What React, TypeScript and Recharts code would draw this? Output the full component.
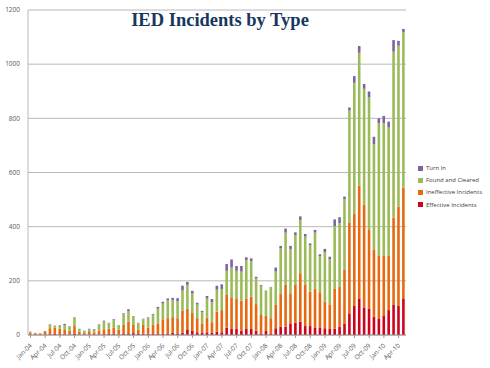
import { BarChart, Bar, XAxis, YAxis, CartesianGrid } from "recharts";

// IED incidents by type, monthly Jan-04 .. May-10
const months = [
  "Jan-04", "Feb-04", "Mar-04", "Apr-04", "May-04", "Jun-04", "Jul-04", "Aug-04", "Sep-04", "Oct-04", "Nov-04", "Dec-04",
  "Jan-05", "Feb-05", "Mar-05", "Apr-05", "May-05", "Jun-05", "Jul-05", "Aug-05", "Sep-05", "Oct-05", "Nov-05", "Dec-05",
  "Jan-06", "Feb-06", "Mar-06", "Apr-06", "May-06", "Jun-06", "Jul-06", "Aug-06", "Sep-06", "Oct-06", "Nov-06", "Dec-06",
  "Jan-07", "Feb-07", "Mar-07", "Apr-07", "May-07", "Jun-07", "Jul-07", "Aug-07", "Sep-07", "Oct-07", "Nov-07", "Dec-07",
  "Jan-08", "Feb-08", "Mar-08", "Apr-08", "May-08", "Jun-08", "Jul-08", "Aug-08", "Sep-08", "Oct-08", "Nov-08", "Dec-08",
  "Jan-09", "Feb-09", "Mar-09", "Apr-09", "May-09", "Jun-09", "Jul-09", "Aug-09", "Sep-09", "Oct-09", "Nov-09", "Dec-09",
  "Jan-10", "Feb-10", "Mar-10", "Apr-10", "May-10",
];

const effective = [
  2, 1, 1, 2, 3, 4, 3, 3, 2, 4, 2, 2,
  2, 2, 2, 3, 4, 4, 2, 6, 6, 7, 4, 5,
  5, 4, 3, 5, 6, 8, 6, 9, 21, 15, 10, 8,
  10, 8, 12, 10, 27, 22, 22, 16, 22, 22, 16, 6,
  15, 6, 25, 31, 31, 43, 45, 49, 33, 33, 28, 28,
  25, 22, 23, 31, 41, 80, 107, 133, 102, 98, 68, 59,
  70, 92, 113, 107, 133,
];

const ineffective = [
  5, 6, 5, 12, 22, 24, 20, 18, 13, 29, 10, 6,
  12, 8, 14, 18, 19, 24, 18, 31, 43, 30, 16, 32,
  22, 35, 40, 53, 56, 58, 56, 80, 76, 66, 52, 35,
  54, 39, 74, 82, 121, 117, 111, 111, 113, 119, 98, 68,
  56, 56, 86, 120, 154, 111, 140, 179, 154, 127, 144, 130,
  99, 91, 147, 147, 199, 336, 342, 418, 380, 290, 246, 233,
  222, 200, 320, 367, 411,
];

const foundCleared = [
  4, 1, 1, 1, 14, 6, 13, 15, 17, 32, 10, 7,
  8, 8, 21, 29, 20, 27, 16, 40, 39, 31, 23, 21,
  35, 36, 54, 58, 66, 62, 63, 75, 88, 72, 50, 41,
  70, 75, 81, 78, 89, 110, 104, 107, 142, 132, 95, 108,
  91, 113, 123, 168, 193, 163, 184, 197, 176, 172, 206, 132,
  182, 166, 232, 235, 261, 413, 482, 491, 427, 489, 390, 490,
  490, 474, 613, 594, 573,
];

const turnIn = [
  1, 0, 0, 0, 1, 1, 1, 5, 1, 1, 1, 1,
  1, 3, 2, 3, 2, 3, 1, 3, 7, 2, 2, 2,
  3, 3, 7, 7, 7, 9, 11, 18, 11, 10, 7, 5,
  10, 11, 15, 17, 25, 30, 18, 21, 10, 10, 6, 3,
  2, 2, 15, 10, 15, 12, 10, 13, 10, 6, 10, 8,
  12, 10, 25, 22, 10, 11, 25, 25, 18, 22, 28, 18,
  27, 22, 43, 18, 13,
];

const yTicks = [0, 200, 400, 600, 800, 1000, 1200];

const data = months.map((month, i) => ({
  month,
  effective: effective[i],
  ineffective: ineffective[i],
  found: foundCleared[i],
  turnIn: turnIn[i],
}));

// legend order is top of stack first
const legendItems = [
  { name: "Turn In", color: "#8064A2" },
  { name: "Found and Cleared", color: "#9BBB59" },
  { name: "Ineffective Incidents", color: "#E8680F" },
  { name: "Effective Incidents", color: "#D0021B" },
];

const tickFont = "'Open Sans', 'Liberation Sans', sans-serif";

function MonthTick(props: any) {
  const { x, y, payload } = props;
  return (
    <g transform={`translate(${x + 2},${y + 6})`}>
      <text x={0} y={0} textAnchor="end" transform="rotate(-45)" fontSize={6.5} fill="#595959" fontFamily={tickFont}>
        {payload.value}
      </text>
    </g>
  );
}

export default function App() {
  return (
    <div style={{ position: "absolute", left: 0, top: 0, width: 490, height: 368, background: "#fff" }}>
      <div
        style={{
          position: "absolute",
          left: 0,
          width: 440,
          top: 10,
          textAlign: "center",
          fontFamily: "'Liberation Serif', 'Times New Roman', serif",
          fontWeight: "bold",
          fontSize: 18.5,
          color: "#17375E",
          zIndex: 2,
        }}
      >
        IED Incidents by Type
      </div>
      <BarChart width={490} height={368} data={data} margin={{ top: 10, right: 84, bottom: 0, left: 0 }} barSize={2.6}>
        <CartesianGrid vertical={false} stroke="#b8b8b8" strokeWidth={1} />
        <XAxis
          dataKey="month"
          interval={2}
          height={33}
          tick={<MonthTick />}
          tickSize={3}
          tickLine={{ stroke: "#999" }}
          axisLine={{ stroke: "#999" }}
        />
        <YAxis
          width={28}
          domain={[0, 1200]}
          ticks={yTicks}
          tickLine={false}
          axisLine={{ stroke: "#b8b8b8" }}
          tick={{ fontSize: 6.5, fill: "#595959", fontFamily: tickFont }}
        />
        <Bar dataKey="effective" stackId="a" fill="#D0021B" isAnimationActive={false} />
        <Bar dataKey="ineffective" stackId="a" fill="#E8680F" isAnimationActive={false} />
        <Bar dataKey="found" stackId="a" fill="#9BBB59" isAnimationActive={false} />
        <Bar dataKey="turnIn" stackId="a" fill="#8064A2" isAnimationActive={false} />
      </BarChart>
      <div style={{ position: "absolute", left: 418, top: 162 }}>
        {legendItems.map((item) => (
          <div key={item.name} style={{ display: "flex", alignItems: "center", height: 12.2 }}>
            <span style={{ display: "inline-block", width: 5, height: 5, background: item.color, marginRight: 3 }} />
            <span style={{ fontSize: 6, color: "#404040", fontFamily: tickFont, whiteSpace: "nowrap" }}>{item.name}</span>
          </div>
        ))}
      </div>
    </div>
  );
}
